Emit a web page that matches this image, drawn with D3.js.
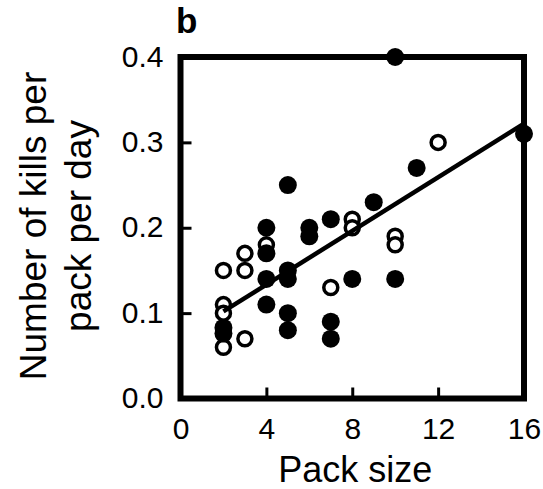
<!DOCTYPE html>
<html>
<head>
<meta charset="utf-8">
<script src="https://cdn.jsdelivr.net/npm/d3@7"></script>
<style>
body { margin: 0; background: #fff; }
text { font-family: "Liberation Sans", Arial, sans-serif; fill: #000; }
</style>
</head>
<body>
<script>
// filled circles
var filledX = [10, 16, 11, 5, 9, 7, 6, 6, 4, 4, 5, 5, 4, 8, 10, 4, 5, 5, 7, 7, 2, 2];
var filledY = [0.40, 0.31, 0.27, 0.25, 0.23, 0.21, 0.20, 0.19, 0.20, 0.17, 0.15, 0.14, 0.14, 0.14, 0.14, 0.11, 0.10, 0.08, 0.09, 0.07, 0.083, 0.076];
// open circles
var openX = [12, 8, 8, 10, 10, 4, 3, 2, 3, 7, 2, 2, 3, 2];
var openY = [0.30, 0.21, 0.20, 0.19, 0.18, 0.18, 0.17, 0.15, 0.15, 0.13, 0.11, 0.10, 0.07, 0.06];
// regression line ends
var fitX = [2, 16];
var fitY = [0.102, 0.322];

var xTicks = [0, 4, 8, 12, 16];
var yTicks = [0.0, 0.1, 0.2, 0.3, 0.4];

var w = 543, h = 489;

var x = d3.scaleLinear().domain([0, 16]).range([180.5, 524]);
var y = d3.scaleLinear().domain([0, 0.4]).range([398.5, 57]);

var svg = d3.select("body")
    .append("svg")
    .attr("width", w)
    .attr("height", h);

// ticks inside the frame
svg.append("g")
    .attr("transform", "translate(0," + y(0) + ")")
    .call(d3.axisBottom(x).tickValues(xTicks).tickSizeInner(-11).tickSizeOuter(0).tickFormat(d3.format("d")).tickPadding(19))
    .call(function(g){
        g.select(".domain").remove();
        g.selectAll("line").attr("stroke", "#000").attr("stroke-width", 3);
        g.selectAll("text").attr("font-size", 30).attr("font-family", null);
    });

svg.append("g")
    .attr("transform", "translate(" + x(0) + ",0)")
    .call(d3.axisLeft(y).tickValues(yTicks).tickSizeInner(-11).tickSizeOuter(0).tickFormat(d3.format(".1f")).tickPadding(17))
    .call(function(g){
        g.select(".domain").remove();
        g.selectAll("line").attr("stroke", "#000").attr("stroke-width", 3);
        g.selectAll("text").attr("font-size", 30).attr("font-family", null).attr("dy", "0.3em");
    });

// frame
svg.append("rect")
    .attr("x", x(0))
    .attr("y", y(0.4))
    .attr("width", x(16) - x(0))
    .attr("height", y(0) - y(0.4))
    .attr("fill", "none")
    .attr("stroke", "#000")
    .attr("stroke-width", 6);

svg.selectAll("circle.open")
    .data(openX)
    .enter().append("circle")
    .attr("class", "open")
    .attr("cx", function(d){ return x(d); })
    .attr("cy", function(d, i){ return y(openY[i]); })
    .attr("r", 7)
    .attr("fill", "#fff")
    .attr("stroke", "#000")
    .attr("stroke-width", 3.5);

svg.selectAll("circle.filled")
    .data(filledX)
    .enter().append("circle")
    .attr("class", "filled")
    .attr("cx", function(d){ return x(d); })
    .attr("cy", function(d, i){ return y(filledY[i]); })
    .attr("r", 9)
    .attr("fill", "#000");

svg.append("line")
    .attr("x1", x(fitX[0]))
    .attr("y1", y(fitY[0]))
    .attr("x2", x(fitX[1]))
    .attr("y2", y(fitY[1]))
    .attr("stroke", "#000")
    .attr("stroke-width", 4.5);

// labels
svg.append("text")
    .text("Pack size")
    .attr("x", (x(0) + x(16)) / 2 + 3)
    .attr("y", 482)
    .attr("text-anchor", "middle")
    .attr("font-size", 36);

var yl = svg.append("text")
    .attr("transform", "translate(46,226) rotate(-90)")
    .attr("text-anchor", "middle")
    .attr("font-size", 37);
yl.append("tspan").attr("x", 0).attr("dy", 0).text("Number of kills per");
yl.append("tspan").attr("x", 0).attr("dy", 45).text("pack per day");

svg.append("text")
    .text("b")
    .attr("x", 176)
    .attr("y", 33)
    .attr("font-size", 35)
    .attr("font-weight", "bold");
</script>
</body>
</html>
